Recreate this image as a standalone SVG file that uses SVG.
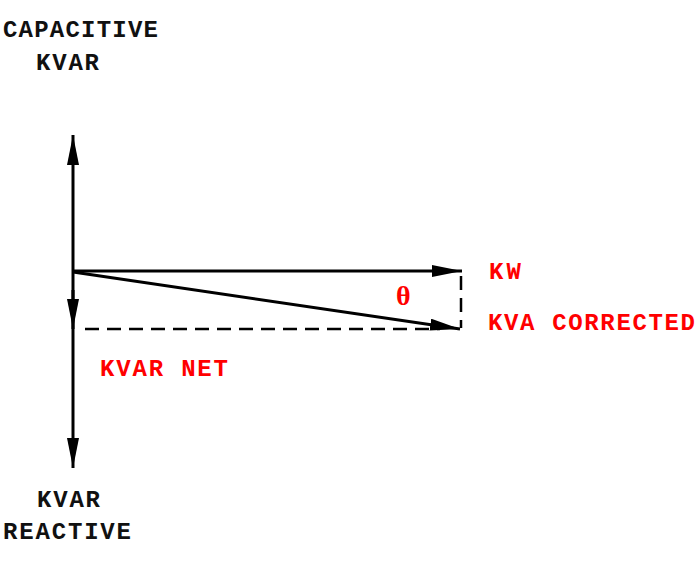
<svg xmlns="http://www.w3.org/2000/svg" width="697" height="563" viewBox="0 0 697 563">
<style>
text{font-family:"Liberation Mono","DejaVu Sans Mono",monospace;font-weight:bold;font-size:24px}
.k{fill:#111}.r{fill:#f00}
.l{stroke:#000;stroke-width:3;fill:none}
.d{stroke:#000;stroke-width:2.5;fill:none;stroke-dasharray:14 8}
</style>
<defs>
<marker id="b" viewBox="0 0 30 12" refX="30" refY="6" markerWidth="30" markerHeight="12" markerUnits="userSpaceOnUse" orient="auto"><path d="M0,0L30,6L0,12z" fill="#000"/></marker></defs>
<g id="connectors">
<line class="l" x1="73" y1="270" x2="73" y2="135" marker-end="url(#b)"/>
<line class="l" x1="73" y1="270" x2="73" y2="468" marker-end="url(#b)"/>
<line class="l" x1="73" y1="290" x2="73" y2="329" marker-end="url(#b)"/>
<line class="l" x1="73" y1="271" x2="462" y2="271" marker-end="url(#b)"/>
<line class="l" x1="73" y1="272" x2="460" y2="329" marker-end="url(#b)"/>
<line class="d" x1="85" y1="329" x2="440" y2="329"/>
<line class="d" x1="461" y1="276" x2="461" y2="328"/>
</g>
<g id="labels">
<text class="k" x="3" y="37" textLength="155">CAPACITIVE</text>
<text class="k" x="36" y="70" textLength="63">KVAR</text>
<text class="r" x="489" y="279" textLength="32">KW</text>
<text class="r" x="396" y="305" style="font-family:'Liberation Serif',serif;font-size:28px">θ</text>
<text class="r" x="488" y="330" textLength="207">KVA CORRECTED</text>
<text class="r" x="100" y="376" textLength="128">KVAR NET</text>
<text class="k" x="37" y="507" textLength="63">KVAR</text>
<text class="k" x="3" y="539" textLength="128">REACTIVE</text>
</g>
</svg>
